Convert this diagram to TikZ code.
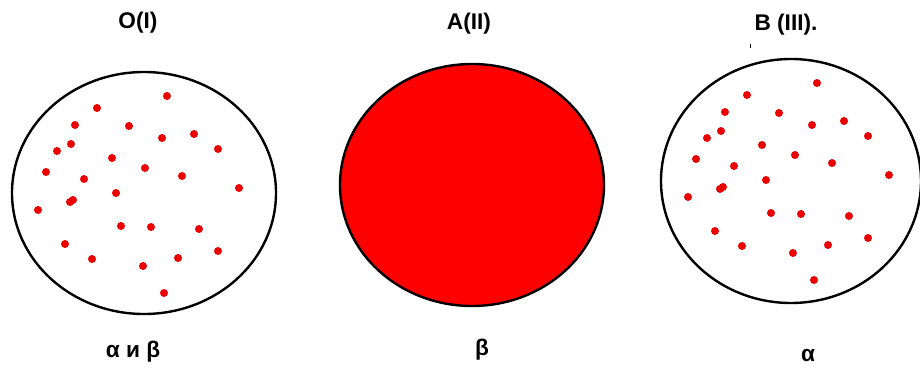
\documentclass[tikz,border=0pt]{standalone}
\usepackage{fontspec}
\setmainfont{Liberation Sans}
\usetikzlibrary{shapes.geometric}

\begin{document}
\begin{tikzpicture}[x=0.75pt,y=-0.75pt]
\tikzstyle{disc}=[draw,ellipse,line width=1.8pt,inner sep=0pt,minimum width=198pt,minimum height=181.5pt]
\tikzstyle{lbl}=[inner sep=0pt,font=\fontsize{17}{20}\selectfont\bfseries]
\tikzstyle{spot}=[fill=red!92!black]

\useasboundingbox (0,0) rectangle (920,372);

\node[disc] (o) at (144,193) {};
\node[disc,fill=red] (a) at (472,185) {};
\node[disc,minimum width=195pt,minimum height=183pt] (b) at (791,181) {};

\node[lbl] (otitle) at (138,23) {O(I)};
\node[lbl] (atitle) at (469,24) {A(II)};
\node[lbl] (btitle) at (786,25) {B (III).};

\node[lbl] (oname) at (133,352) {α и β};
\node[lbl] (aname) at (482,350) {β};
\node[lbl] (bname) at (808,356) {α};

\draw[line width=0.6pt] (750,44) -- (750,48);

\foreach \dx/\dy in {23/-97,-47/-85,-15/-67,-69/-68,50/-59,18/-55,-73/-49,-87/-42,
  74/-44,-32/-35,1/-25,-98/-21,38/-17,-60/-14,95/-5,-28/0,-74/9,-71/7,-106/17,
  -23/33,7/34,55/36,-79/51,74/58,-52/66,34/65,-1/73,20/100}
{
\fill[spot] (144+\dx,193+\dy) circle (3pt);
\fill[spot] (794+\dx,180+\dy) circle (3pt);
}

\end{tikzpicture}
\end{document}
